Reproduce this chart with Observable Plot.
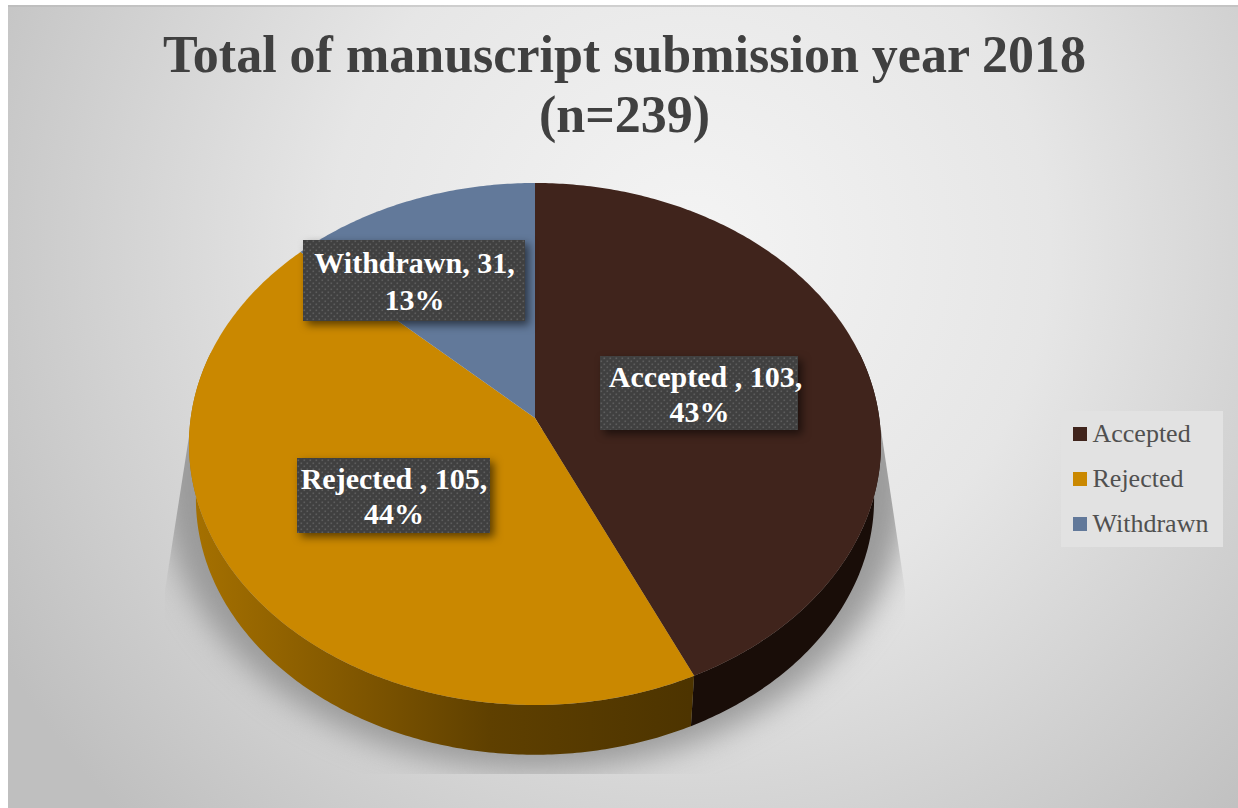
<!DOCTYPE html>
<html>
<head>
<meta charset="utf-8">
<script src="https://cdn.jsdelivr.net/npm/d3@7"></script>
<script src="https://cdn.jsdelivr.net/npm/@observablehq/plot@0.6"></script>
<style>
html,body{margin:0;padding:0;background:#fff;}
#wrap{position:absolute;left:0;top:0;width:1238px;height:808px;overflow:hidden;}
#wrap svg{display:block;}
</style>
</head>
<body>
<div id="wrap"></div>
<script>
// ---------- data ----------
const categories = ["Accepted", "Rejected", "Withdrawn"];
const labelNames = ["Accepted ", "Rejected ", "Withdrawn"];
const values = [103, 105, 31];
const percents = [43, 44, 13];
const colors = ["#40241c", "#ca8800", "#62799a"];
const titleLines = "Total of manuscript submission year 2018\n(n=239)";

// ---------- layout ----------
const W = 1238, H = 808;
const cx = 535, cy = 418;
const B = 344.3, A = 258.4, k = -0.0996;
const labelBoxes = [
  {x1: 600, x2: 798, y1: 356, y2: 430, dx: 6, y: 30, y2t: 65},
  {x1: 297, x2: 490, y1: 458, y2: 533, dx: 0, y: 30, y2t: 65},
  {x1: 303, x2: 525, y1: 240, y2: 321, dx: 0, y: 32, y2t: 69}
];
const serif = "'Liberation Serif', 'DejaVu Serif', serif";

// ---------- geometry derived from the values ----------
const arcs = d3.pie().sort(null).value(d => d)(values);
const rimTop = a => {
  const u = Math.sin(a), v = -Math.cos(a), s = 1 + k * v;
  return {x: cx + B * u / s, y: cy + A * v / s};
};
const rimBottom = a => {
  const p = rimTop(a);
  return {x: cx + 0.98 * (p.x - cx), y: 444 + 0.98 * (p.y - 444) + 55};
};
const span = (a0, a1) => {
  const n = Math.max(2, Math.ceil((a1 - a0) * 90));
  return d3.range(n + 1).map(i => a0 + (a1 - a0) * i / n);
};
const slices = arcs.flatMap((d, i) =>
  span(d.startAngle, d.endAngle).map(a => ({name: categories[i], ...rimTop(a)})));
const wallFor = (a0, a1) => span(a0, a1).map(a => {
  const p = rimTop(a), q = rimBottom(a);
  return {x1: p.x, y1: p.y, x2: q.x, y2: q.y};
});
const deg = Math.PI / 180;
const wallAccepted = wallFor(75 * deg, arcs[0].endAngle);
const wallRejected = wallFor(arcs[1].startAngle, 285 * deg);
const shadowPts = span(0, 2 * Math.PI).map(a => ({
  x: cx + 374 * Math.sin(a), y: 480 - 290 * Math.cos(a)
}));
const labels = arcs.map((d, i) => ({
  text: `${labelNames[i]}, ${values[i]},`,
  pct: `${percents[i]}%`,
  box: labelBoxes[i]
}));
const legendY = [434, 479, 524];

// ---------- defs: gradients and patterns ----------
const defs = () => {
  const s = d3.create("svg:g");
  const d = s.append("defs");
  const g = d.append("linearGradient").attr("id", "wallGrad")
    .attr("gradientUnits", "userSpaceOnUse")
    .attr("x1", 190).attr("x2", 690).attr("y1", 0).attr("y2", 0);
  [[0, "#a67100"], [0.3, "#845900"], [0.6, "#5f4000"], [1, "#4d3400"]].forEach(([o, c]) =>
    g.append("stop").attr("offset", o).attr("stop-color", c));
  const p = d.append("pattern").attr("id", "dots")
    .attr("patternUnits", "userSpaceOnUse").attr("width", 6).attr("height", 6);
  p.append("rect").attr("width", 6).attr("height", 6).attr("fill", "#404040");
  [[0.5, 0.5], [3.5, 3.5]].forEach(([x, y]) =>
    p.append("rect").attr("x", x).attr("y", y).attr("width", 1.6).attr("height", 1.6).attr("fill", "#5d5d5d"));
  const c = d.append("clipPath").attr("id", "shadowClip");
  c.append("polygon").attr("points", "190,430 165,590 165,774 905,774 905,590 881,430");
  const b = d.append("radialGradient").attr("id", "bg")
    .attr("gradientUnits", "userSpaceOnUse")
    .attr("cx", 690).attr("cy", 250).attr("r", 800);
  [[0, "#f4f4f4"], [0.45, "#e6e6e6"], [1, "#bfbfbf"]].forEach(([o, col]) =>
    b.append("stop").attr("offset", o).attr("stop-color", col));
  return s.node();
};

const boxes = labels.map(l => l.box);
const chart = Plot.plot({
  width: W, height: H,
  margin: 0,
  x: {domain: [0, W], range: [0, W], axis: null},
  y: {domain: [0, H], range: [0, H], axis: null},
  color: {domain: categories, range: colors},
  style: {background: "transparent", overflow: "visible"},
  marks: [
    defs,
    // background
    Plot.rect([{x1: 8, x2: W, y1: 5, y2: H}], {x1: "x1", x2: "x2", y1: "y1", y2: "y2", fill: "url(#bg)"}),
    Plot.ruleY([5.5], {x1: 8, x2: W, stroke: "#b5b5b5", strokeWidth: 1}),
    // shadow (first area mark in the plot: clipped below)
    Plot.area(shadowPts, {x1: () => cx, y1: () => 480, x2: "x", y2: "y", fill: "#9a9a9a",
      imageFilter: "blur(15px)"}),
    // side walls
    Plot.area(wallAccepted, {x1: "x1", y1: "y1", x2: "x2", y2: "y2", fill: "#190d08"}),
    Plot.area(wallRejected, {x1: "x1", y1: "y1", x2: "x2", y2: "y2", fill: "url(#wallGrad)"}),
    // top disc
    Plot.area(slices, {x1: cx, y1: cy, x2: "x", y2: "y", z: "name", fill: "name"}),
    // title
    Plot.text([titleLines], {text: d => d, x: 624, y: 29, lineAnchor: "top", lineHeight: 1.15,
      fontFamily: serif, fontWeight: 700, fontSize: 52, fill: "#404040", textAnchor: "middle"}),
    // data labels
    Plot.rect(boxes, {x1: "x1", x2: "x2", y1: "y1", y2: "y2", fill: "url(#dots)",
      imageFilter: "drop-shadow(4px 4px 4px rgba(0,0,0,0.55))"}),
    Plot.text(labels, {text: "text", x: d => (d.box.x1 + d.box.x2) / 2 + d.box.dx, y: d => d.box.y1 + d.box.y,
      fontFamily: serif, fontWeight: 700, fontSize: 30, fill: "#fff", textAnchor: "middle", lineAnchor: "bottom"}),
    Plot.text(labels, {text: "pct", x: d => (d.box.x1 + d.box.x2) / 2, y: d => d.box.y1 + d.box.y2t,
      fontFamily: serif, fontWeight: 700, fontSize: 30, fill: "#fff", textAnchor: "middle", lineAnchor: "bottom"}),
    // legend
    Plot.rect([{x1: 1061, x2: 1223, y1: 411, y2: 547}], {x1: "x1", x2: "x2", y1: "y1", y2: "y2", fill: "#e2e2e2"}),
    Plot.rect(categories, {x1: 1073, x2: 1087, y1: (d, i) => legendY[i] - 7, y2: (d, i) => legendY[i] + 7, fill: d => d}),
    Plot.text(categories, {text: d => d, x: 1092, y: (d, i) => legendY[i] - 1, textAnchor: "start",
      fontFamily: serif, fontSize: 26, fill: "#505050", lineAnchor: "middle"})
  ]
});
const shadow = chart.querySelector('g[aria-label="area"]');
if (shadow) {
  const holder = document.createElementNS("http://www.w3.org/2000/svg", "g");
  holder.setAttribute("clip-path", "url(#shadowClip)");
  shadow.before(holder);
  holder.append(shadow);
}
document.getElementById("wrap").append(chart);
</script>
</body>
</html>
